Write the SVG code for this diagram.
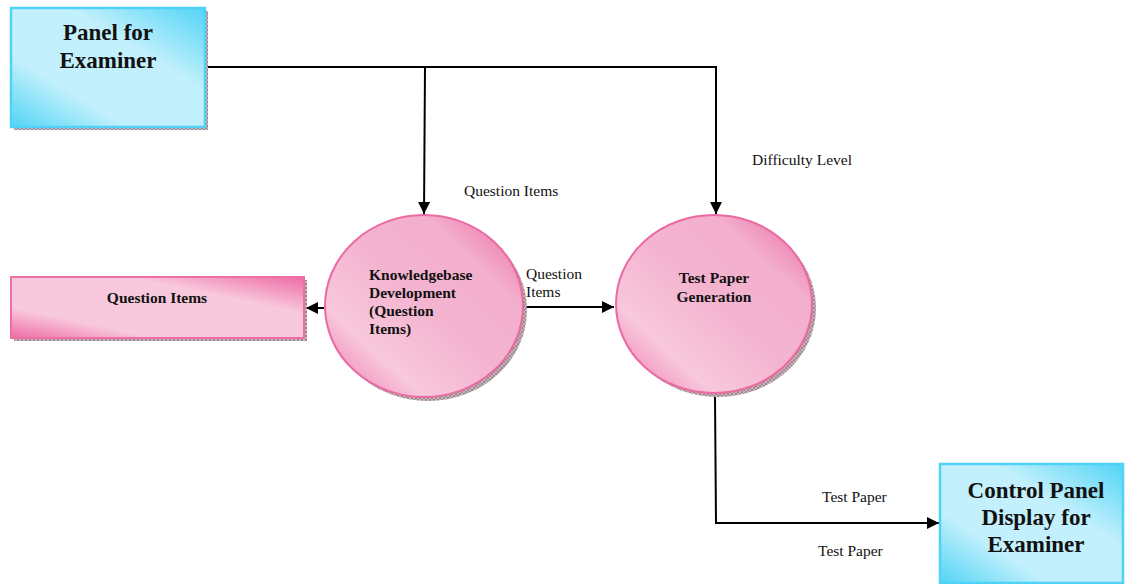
<svg xmlns="http://www.w3.org/2000/svg" width="1128" height="584" viewBox="0 0 1128 584">
<defs>
  <linearGradient id="blue" x1="0" y1="1" x2="1" y2="0">
    <stop offset="0" stop-color="#52d4f6"/>
    <stop offset="0.3" stop-color="#c2f0fc"/>
    <stop offset="0.65" stop-color="#c2f0fc"/>
    <stop offset="1" stop-color="#52d4f6"/>
  </linearGradient>
  <linearGradient id="pinkBox" x1="0" y1="1" x2="1" y2="0">
    <stop offset="0" stop-color="#ee6aa4"/>
    <stop offset="0.25" stop-color="#f8c8dc"/>
    <stop offset="0.7" stop-color="#f8c8dc"/>
    <stop offset="1" stop-color="#ee6aa4"/>
  </linearGradient>
  <linearGradient id="pinkCirc" x1="0" y1="1" x2="1" y2="0">
    <stop offset="0" stop-color="#ee72a9"/>
    <stop offset="0.25" stop-color="#f8c8dc"/>
    <stop offset="0.5" stop-color="#f4b4d0"/>
    <stop offset="0.75" stop-color="#f3afcd"/>
    <stop offset="1" stop-color="#ea64a0"/>
  </linearGradient>
  <pattern id="hatch" width="4" height="4" patternUnits="userSpaceOnUse">
    <rect width="4" height="4" fill="#a08890"/>
    <path d="M0 0L4 4M4 0L0 4" stroke="#d8c8cc" stroke-width="0.7"/>
  </pattern>
  <marker id="arr" viewBox="0 0 12 12" refX="12" refY="6" markerWidth="12" markerHeight="12" markerUnits="userSpaceOnUse" orient="auto">
    <path d="M0 0L12 6L0 12Z" fill="#000"/>
  </marker>
</defs>
<style>
  .conn{fill:none;stroke:#000;stroke-width:2}
  .lbl{font-family:"Liberation Serif",serif;font-size:15.5px;fill:#111}
  .big{font-family:"Liberation Serif",serif;font-size:23px;font-weight:bold;fill:#111;text-anchor:middle}
  .small{font-family:"Liberation Serif",serif;font-size:15.5px;font-weight:bold;fill:#111}
  .bbox{fill:url(#blue);stroke:#4fd2f5;stroke-width:2.5}
  .pbox{fill:url(#pinkBox);stroke:#ee6fa6;stroke-width:2}
  .pcirc{fill:url(#pinkCirc);stroke:#ec6aa3;stroke-width:2}
  .shadow{fill:url(#hatch)}
</style>
<rect width="1128" height="584" fill="#fff"/>

<g id="connectors">
  <path class="conn" d="M206 67H716V214" marker-end="url(#arr)"/>
  <path class="conn" d="M425 67L424 214" marker-end="url(#arr)"/>
  <path class="conn" d="M324 308H306" marker-end="url(#arr)"/>
  <path class="conn" d="M523 307H614" marker-end="url(#arr)"/>
  <path class="conn" d="M715 397L716 523H939" marker-end="url(#arr)"/>
  <text class="lbl" x="464" y="196">Question Items</text>
  <text class="lbl" x="752" y="165">Difficulty Level</text>
  <text class="lbl" x="526" y="279">Question</text>
  <text class="lbl" x="526" y="297">Items</text>
  <text class="lbl" x="822" y="502">Test Paper</text>
  <text class="lbl" x="818" y="556">Test Paper</text>
</g>

<g id="panel-examiner">
  <rect class="shadow" x="14" y="11" width="194" height="119"/>
  <rect class="bbox" x="11" y="8" width="194" height="119"/>
  <text class="big" x="108" y="40">Panel for</text>
  <text class="big" x="108" y="68">Examiner</text>
</g>

<g id="question-items-store">
  <rect class="shadow" x="14" y="280" width="293" height="61"/>
  <rect class="pbox" x="11" y="277" width="293" height="61"/>
  <text class="small" x="157" y="303" text-anchor="middle">Question Items</text>
</g>

<g id="knowledgebase">
  <ellipse class="shadow" cx="428" cy="310" rx="99" ry="91"/>
  <ellipse class="pcirc" cx="424" cy="306" rx="99" ry="91"/>
  <text class="small" x="369" y="280">Knowledgebase</text>
  <text class="small" x="369" y="298">Development</text>
  <text class="small" x="369" y="316">(Question</text>
  <text class="small" x="369" y="334">Items)</text>
</g>

<g id="test-paper-generation">
  <ellipse class="shadow" cx="718" cy="308" rx="98" ry="89"/>
  <ellipse class="pcirc" cx="714" cy="304" rx="98" ry="89"/>
  <text class="small" x="714" y="283" text-anchor="middle">Test Paper</text>
  <text class="small" x="714" y="302" text-anchor="middle">Generation</text>
</g>

<g id="control-panel">
  <rect class="bbox" x="940" y="464" width="183" height="119"/>
  <text class="big" x="1036" y="498">Control Panel</text>
  <text class="big" x="1036" y="525">Display for</text>
  <text class="big" x="1036" y="552">Examiner</text>
</g>
</svg>
